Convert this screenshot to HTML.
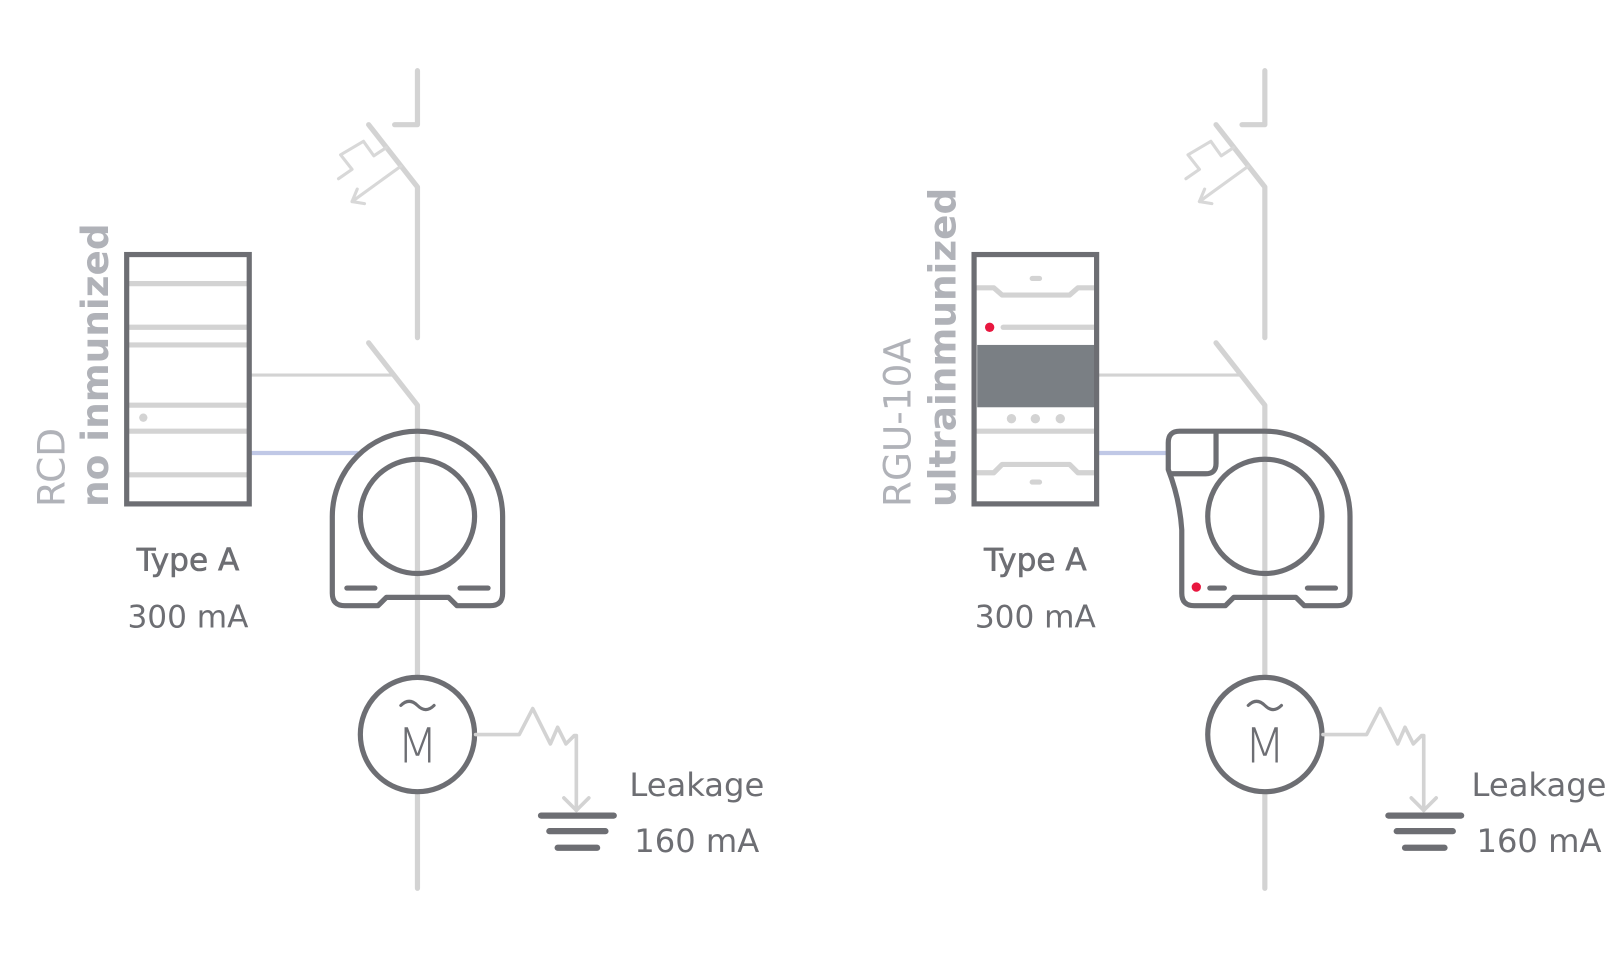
<!DOCTYPE html>
<html><head><meta charset="utf-8"><style>
html,body{margin:0;padding:0;background:#fff;}
svg{display:block;}
text{font-family:"DejaVu Sans","Liberation Sans",sans-serif;}
</style></head><body>
<svg width="1620" height="960" viewBox="0 0 1560 924" preserveAspectRatio="none" xmlns="http://www.w3.org/2000/svg">
<defs>
<g id="common" fill="none" stroke-linecap="round" stroke-linejoin="round">
  <polyline points="380,120 402,120 402,68" stroke="#d3d3d3" stroke-width="5"/>
  <polyline points="355,120 402,180 402,325" stroke="#d3d3d3" stroke-width="5"/>
  <polyline points="372,142 360,150 350,136 328,149 339,163 326,172" stroke="#d8d8d8" stroke-width="3"/>
  <line x1="386" y1="160" x2="339" y2="194" stroke="#d8d8d8" stroke-width="3"/>
  <polyline points="351,196 339,194 344,182" stroke="#d8d8d8" stroke-width="3"/>
  <polyline points="355,330 402,390 402,855" stroke="#d3d3d3" stroke-width="5"/>
  <line x1="240" y1="361" x2="380" y2="361" stroke="#d3d3d3" stroke-width="3"/>
  <circle cx="402" cy="707" r="55" fill="#fff" stroke="#6d6e73" stroke-width="5"/>
  <path d="M386,679 q8,-8 16,0 t16,0" stroke="#6d6e73" stroke-width="3"/>
  <polyline points="458,707 500,707 513,682 530,716 537,700 545,716 553,708 555,708 555,780" stroke="#d3d3d3" stroke-width="3.5"/>
  <polyline points="543,768 555,780 567,768" stroke="#d3d3d3" stroke-width="3.5"/>
  <line x1="521" y1="785" x2="591" y2="785" stroke="#6d6e73" stroke-width="6"/>
  <line x1="529" y1="800" x2="583" y2="800" stroke="#6d6e73" stroke-width="6"/>
  <line x1="537" y1="816" x2="575" y2="816" stroke="#6d6e73" stroke-width="6"/>
</g>
</defs>

<!-- LEFT -->
<use href="#common"/>
<text x="402" y="734" font-size="46" fill="#6d6e73" text-anchor="middle" font-weight="200">M</text>
<text x="671" y="766" font-size="31" fill="#6d6e73" text-anchor="middle">Leakage</text>
<text x="671" y="820" font-size="31" fill="#6d6e73" text-anchor="middle">160 mA</text>
<line x1="240" y1="436" x2="345" y2="436" stroke="#c0c8e6" stroke-width="4"/>
<g stroke="#d3d3d3" stroke-width="5">
  <line x1="124" y1="273" x2="238" y2="273"/><line x1="124" y1="315" x2="238" y2="315"/>
  <line x1="124" y1="332" x2="238" y2="332"/><line x1="124" y1="390" x2="238" y2="390"/>
  <line x1="124" y1="415" x2="238" y2="415"/><line x1="124" y1="457" x2="238" y2="457"/>
</g>
<circle cx="138" cy="402" r="4" fill="#d3d3d3"/>
<rect x="122" y="245" width="118" height="240" fill="none" stroke="#6d6e73" stroke-width="5"/>
<path d="M320,497 A82,82 0 0 1 484,497 L484,571 Q484,583 472,583 L440,583 L432,575 L372,575 L364,583 L332,583 Q320,583 320,571 Z" fill="none" stroke="#6d6e73" stroke-width="5" stroke-linejoin="round"/>
<circle cx="402" cy="497" r="55" fill="none" stroke="#6d6e73" stroke-width="5"/>
<g stroke="#6d6e73" stroke-width="5" stroke-linecap="round">
  <line x1="334" y1="566" x2="361" y2="566"/><line x1="443" y1="566" x2="470" y2="566"/>
</g>
<text transform="translate(62,488) rotate(-90)" font-size="36" fill="#b0b2b8">RCD</text>
<text transform="translate(104,488) rotate(-90)" font-size="36" font-weight="bold" fill="#b0b2b8">no inmunized</text>
<text x="181" y="549" font-size="30" fill="#6d6e73" text-anchor="middle" stroke="#6d6e73" stroke-width="0.6">Type A</text>
<text x="181" y="604" font-size="30" fill="#6d6e73" text-anchor="middle">300 mA</text>

<!-- RIGHT -->
<use href="#common" transform="translate(816,0)"/>
<text x="1218" y="734" font-size="46" fill="#6d6e73" text-anchor="middle" font-weight="200">M</text>
<text x="1482" y="766" font-size="31" fill="#6d6e73" text-anchor="middle">Leakage</text>
<text x="1482" y="820" font-size="31" fill="#6d6e73" text-anchor="middle">160 mA</text>
<line x1="1056" y1="436" x2="1124" y2="436" stroke="#c0c8e6" stroke-width="4"/>
<g fill="none" stroke="#d3d3d3" stroke-width="5" stroke-linecap="round" stroke-linejoin="round">
  <polyline points="941,277 957,277 965,284 1030,284 1038,277 1054,277"/>
  <line x1="966" y1="315" x2="1054" y2="315"/>
  <line x1="941" y1="415" x2="1054" y2="415"/>
  <polyline points="941,455 957,455 965,447 1030,447 1038,455 1054,455"/>
  <line x1="994" y1="268" x2="1001" y2="268"/>
  <line x1="994" y1="464" x2="1001" y2="464"/>
</g>
<circle cx="953" cy="315" r="4.5" fill="#e8173f"/>
<rect x="941" y="332" width="113" height="60" fill="#7a7f84"/>
<g fill="#d3d3d3"><circle cx="974" cy="403" r="4.5"/><circle cx="997" cy="403" r="4.5"/><circle cx="1021" cy="403" r="4.5"/></g>
<rect x="938" y="245" width="118" height="240" fill="none" stroke="#6d6e73" stroke-width="5"/>
<path d="M1218,415 A82,82 0 0 1 1300,497 L1300,571 Q1300,583 1288,583 L1256,583 L1248,575 L1188,575 L1180,583 L1150,583 Q1138,583 1138,571 L1138,510 Q1136,480 1125,452 L1125,426 Q1125,415 1136,415 Z" fill="none" stroke="#6d6e73" stroke-width="5" stroke-linejoin="round"/>
<path d="M1171,415 L1171,446 Q1171,456 1161,456 L1127,456" fill="none" stroke="#6d6e73" stroke-width="5"/>
<circle cx="1218" cy="497" r="55" fill="none" stroke="#6d6e73" stroke-width="5"/>
<circle cx="1152" cy="565" r="4.5" fill="#e8173f"/>
<g stroke="#6d6e73" stroke-width="5" stroke-linecap="round">
  <line x1="1165" y1="566" x2="1179" y2="566"/><line x1="1259" y1="566" x2="1286" y2="566"/>
</g>
<text transform="translate(877,488) rotate(-90)" font-size="36" fill="#b0b2b8">RGU-10A</text>
<text transform="translate(920,488) rotate(-90)" font-size="36" font-weight="bold" fill="#b0b2b8">ultrainmunized</text>
<text x="997" y="549" font-size="30" fill="#6d6e73" text-anchor="middle" stroke="#6d6e73" stroke-width="0.6">Type A</text>
<text x="997" y="604" font-size="30" fill="#6d6e73" text-anchor="middle">300 mA</text>
</svg>
</body></html>
